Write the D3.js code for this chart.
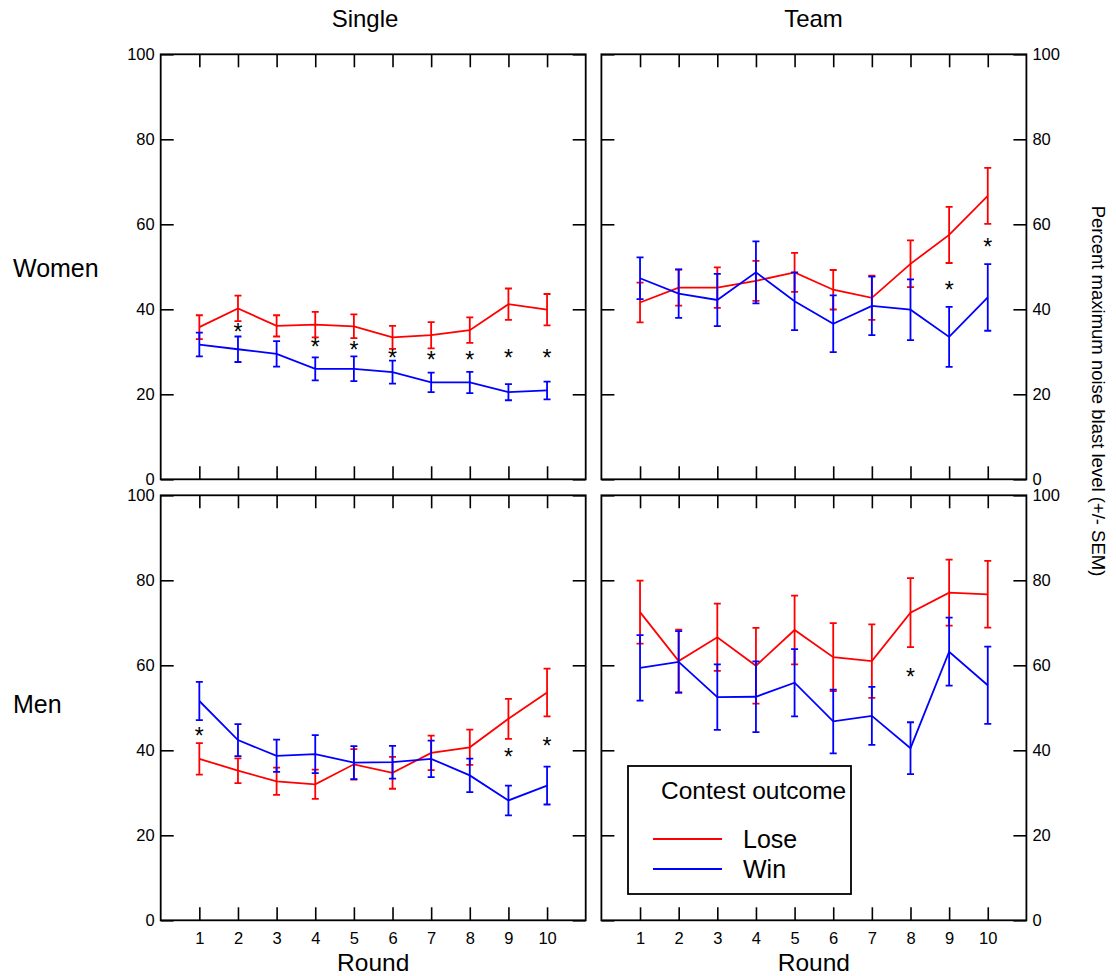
<!DOCTYPE html>
<html>
<head>
<meta charset="utf-8">
<script src="https://cdn.jsdelivr.net/npm/d3@7"></script>
<style>
  body { margin: 0; background: #fff; font-family: "Liberation Sans", Arial, sans-serif; }
  svg text { fill: #000; }
</style>
</head>
<body>
<svg id="chart"></svg>
<script>
// rounds and tick labels
let rounds = [1, 2, 3, 4, 5, 6, 7, 8, 9, 10];
let yTicks = [0, 20, 40, 60, 80, 100];

// women, single
let womenSingleLose    = [35.8, 40.2, 36.1, 36.4, 36.0, 33.4, 33.9, 35.1, 41.2, 39.9];
let womenSingleLoseSem = [2.8, 3.0, 2.5, 3.0, 2.8, 2.7, 3.1, 3.0, 3.7, 3.7];
let womenSingleWin     = [31.7, 30.6, 29.5, 26.0, 26.0, 25.2, 22.8, 22.8, 20.5, 20.9];
let womenSingleWinSem  = [2.8, 3.0, 3.0, 2.7, 2.9, 2.7, 2.3, 2.5, 1.9, 2.1];
let womenSingleStarRounds = [2, 4, 5, 6, 7, 8, 9, 10];
let womenSingleStarY      = [35.8, 32.2, 31.7, 29.6, 29.3, 29.3, 29.6, 29.6];

// women, team
let womenTeamLose    = [41.6, 45.1, 45.1, 46.7, 48.7, 44.6, 42.7, 50.7, 57.5, 66.7];
let womenTeamLoseSem = [4.7, 4.25, 4.75, 4.7, 4.6, 4.65, 5.2, 5.5, 6.6, 6.6];
let womenTeamWin     = [47.3, 43.7, 42.2, 48.7, 41.9, 36.6, 40.8, 39.9, 33.5, 42.8];
let womenTeamWinSem  = [4.9, 5.7, 6.15, 7.3, 6.8, 6.7, 6.9, 7.15, 7.05, 7.85];
let womenTeamStarRounds = [9, 10];
let womenTeamStarY      = [45.7, 55.8];

// men, single
let menSingleLose    = [38.0, 35.2, 32.7, 32.0, 36.7, 34.7, 39.4, 40.7, 47.4, 53.6];
let menSingleLoseSem = [3.7, 2.9, 3.2, 3.45, 3.6, 3.75, 4.05, 4.15, 4.7, 5.6];
let menSingleWin     = [51.6, 42.4, 38.7, 39.1, 37.1, 37.2, 38.0, 34.1, 28.2, 31.7];
let menSingleWinSem  = [4.5, 3.75, 3.8, 4.45, 3.9, 3.85, 4.3, 3.95, 3.5, 4.45];
let menSingleStarRounds = [1, 9, 10];
let menSingleStarY      = [44.6, 39.7, 42.2];

// men, team
let menTeamLose    = [72.5, 61.0, 66.6, 59.9, 68.3, 61.9, 61.0, 72.4, 77.1, 76.7];
let menTeamLoseSem = [7.4, 7.4, 7.9, 8.9, 8.1, 8.0, 8.65, 8.1, 7.75, 7.85];
let menTeamWin     = [59.4, 60.8, 52.5, 52.6, 55.9, 46.8, 48.1, 40.5, 63.2, 55.3];
let menTeamWinSem  = [7.7, 7.25, 7.7, 8.3, 7.9, 7.5, 6.8, 6.1, 8.0, 9.1];
let menTeamStarRounds = [8];
let menTeamStarY      = [58.4];

let colTitles = ['Single', 'Team'];
let rowTitles = ['Women', 'Men'];
let seriesNames = ['Lose', 'Win'];
let seriesColors = ['#ff0000', '#0000ff'];

let width = 1116, height = 976;
let fontFamily = '"Liberation Sans", Arial, sans-serif';

let svg = d3.select('#chart')
    .attr('width', width)
    .attr('height', height)
    .style('font-family', fontFamily);

// panel geometry
let colX = [160.7, 601.4];
let rowY = [54.3, 495.3];
let pw = 425, ph = 425;

let panels = [
    {row: 0, col: 0, lose: womenSingleLose, loseSem: womenSingleLoseSem, win: womenSingleWin, winSem: womenSingleWinSem, starR: womenSingleStarRounds, starY: womenSingleStarY},
    {row: 0, col: 1, lose: womenTeamLose, loseSem: womenTeamLoseSem, win: womenTeamWin, winSem: womenTeamWinSem, starR: womenTeamStarRounds, starY: womenTeamStarY},
    {row: 1, col: 0, lose: menSingleLose, loseSem: menSingleLoseSem, win: menSingleWin, winSem: menSingleWinSem, starR: menSingleStarRounds, starY: menSingleStarY},
    {row: 1, col: 1, lose: menTeamLose, loseSem: menTeamLoseSem, win: menTeamWin, winSem: menTeamWinSem, starR: menTeamStarRounds, starY: menTeamStarY}
];

let x = d3.scaleLinear().domain([0, 11]).range([0, pw]);
let y = d3.scaleLinear().domain([0, 100]).range([ph, 0]);

function styleAxis(g) {
    g.select('.domain').remove();
    g.selectAll('.tick line').attr('stroke', '#000').attr('stroke-width', 1.6);
    g.selectAll('.tick text').attr('font-size', '16.5px').attr('font-family', fontFamily).attr('fill', '#000');
}

panels.forEach(p => {
    let g = svg.append('g')
        .attr('transform', `translate(${colX[p.col]},${rowY[p.row]})`);

    // ticks, all pointing inward
    g.append('g')
        .call(d3.axisLeft(y).tickValues(yTicks).tickSize(-13).tickSizeOuter(0).tickPadding(6)
            .tickFormat(p.col === 0 ? d3.format('d') : ''))
        .call(styleAxis);
    g.append('g')
        .attr('transform', `translate(${pw},0)`)
        .call(d3.axisRight(y).tickValues(yTicks).tickSize(-13).tickSizeOuter(0).tickPadding(6)
            .tickFormat(p.col === 1 ? d3.format('d') : ''))
        .call(styleAxis);
    g.append('g')
        .call(d3.axisTop(x).tickValues(rounds).tickSize(-13).tickSizeOuter(0).tickFormat(''))
        .call(styleAxis);
    g.append('g')
        .attr('transform', `translate(0,${ph})`)
        .call(d3.axisBottom(x).tickValues(rounds).tickSize(-13).tickSizeOuter(0).tickPadding(11.5)
            .tickFormat(p.row === 1 ? d3.format('d') : ''))
        .call(styleAxis);

    // frame
    g.append('rect')
        .attr('x', 0).attr('y', 0).attr('width', pw).attr('height', ph)
        .attr('fill', 'none').attr('stroke', '#000').attr('stroke-width', 1.8);

    // series: lose first, win on top
    let series = [
        {mean: p.lose, sem: p.loseSem, color: seriesColors[0]},
        {mean: p.win, sem: p.winSem, color: seriesColors[1]}
    ];
    series.forEach(s => {
        let pts = rounds.map((r, i) => ({r: r, m: s.mean[i], e: s.sem[i]}));
        let eb = g.append('g').attr('stroke', s.color).attr('stroke-width', 1.8).attr('fill', 'none');
        eb.selectAll('path')
            .data(pts)
            .join('path')
            .attr('d', d => {
                let cx = x(d.r), y1 = y(d.m + d.e), y2 = y(d.m - d.e);
                return `M${cx},${y1}V${y2}M${cx - 3.5},${y1}H${cx + 3.5}M${cx - 3.5},${y2}H${cx + 3.5}`;
            });
        g.append('path')
            .datum(pts)
            .attr('fill', 'none')
            .attr('stroke', s.color)
            .attr('stroke-width', 1.8)
            .attr('d', d3.line().x(d => x(d.r)).y(d => y(d.m)));
    });

    // significance stars
    g.selectAll('text.star')
        .data(p.starR.map((r, i) => ({r: r, v: p.starY[i]})))
        .join('text')
        .attr('class', 'star')
        .attr('x', d => x(d.r))
        .attr('y', d => y(d.v) + 13)
        .attr('text-anchor', 'middle')
        .attr('font-size', '23px')
        .text('*');
});

// column titles
let colTitleX = [365, 813.5];
colTitles.forEach((t, i) => {
    svg.append('text')
        .attr('x', colTitleX[i])
        .attr('y', 26.5)
        .attr('text-anchor', 'middle')
        .attr('font-size', '24px')
        .text(t);
});

// row titles
let rowBase = [276.5, 713];
rowTitles.forEach((t, i) => {
    svg.append('text')
        .attr('x', 13)
        .attr('y', rowBase[i])
        .attr('font-size', '25px')
        .text(t);
});

// x axis titles
colX.forEach(cx => {
    svg.append('text')
        .attr('x', cx + pw / 2)
        .attr('y', 971)
        .attr('text-anchor', 'middle')
        .attr('font-size', '24.5px')
        .text('Round');
});

// right-hand axis title
svg.append('text')
    .attr('transform', 'translate(1098,391) rotate(90)')
    .attr('text-anchor', 'middle')
    .attr('dy', '0.35em')
    .attr('font-size', '18.5px')
    .text('Percent maximum noise blast level (+/- SEM)');

// legend
let lg = svg.append('g').attr('transform', 'translate(628,766)');
lg.append('rect')
    .attr('width', 223).attr('height', 128)
    .attr('fill', '#fff').attr('stroke', '#000').attr('stroke-width', 1.8);
lg.append('text')
    .attr('x', 33).attr('y', 33)
    .attr('font-size', '24.5px')
    .text('Contest outcome');
seriesNames.forEach((n, i) => {
    let ly = 73 + i * 30;
    lg.append('line')
        .attr('x1', 25).attr('x2', 94).attr('y1', ly).attr('y2', ly)
        .attr('stroke', seriesColors[i]).attr('stroke-width', 1.8);
    lg.append('text')
        .attr('x', 115).attr('y', ly + 8.5)
        .attr('font-size', '25px')
        .text(n);
});
</script>
</body>
</html>
